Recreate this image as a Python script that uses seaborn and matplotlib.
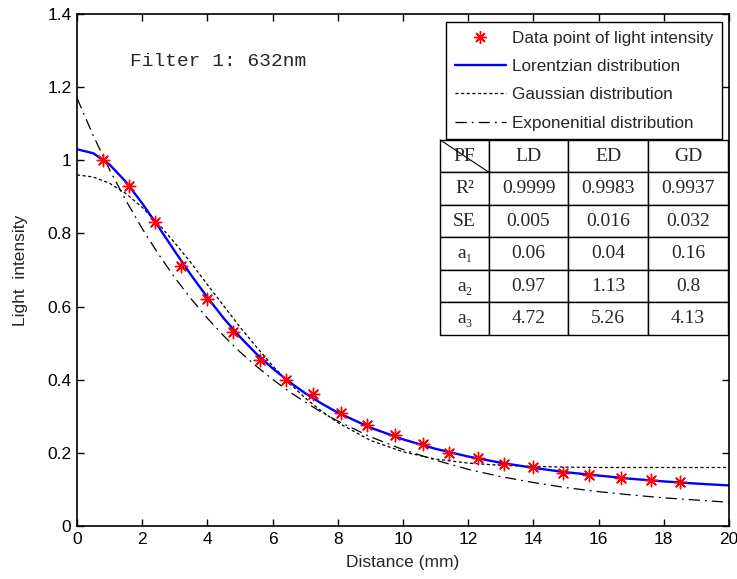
import matplotlib
matplotlib.use("Agg")
import matplotlib.pyplot as plt
import seaborn as sns
from matplotlib.lines import Line2D

# measured data points (mm, intensity)
dist_pts = [0.8, 1.6, 2.4, 3.2, 4.0, 4.8, 5.6, 6.4, 7.25, 8.1, 8.9, 9.75,
            10.6, 11.4, 12.3, 13.1, 14.0, 14.9, 15.7, 16.7, 17.6, 18.5]
light_pts = [1.0, 0.93, 0.83, 0.71, 0.62, 0.53, 0.455, 0.40, 0.36, 0.31, 0.275, 0.25,
             0.225, 0.20, 0.185, 0.17, 0.16, 0.145, 0.14, 0.13, 0.125, 0.12]

# fitted curves
dist_fit = [0, 0.5, 1, 1.5, 2, 2.5, 3, 3.5, 4, 4.5, 5, 5.5, 6, 6.5, 7, 7.5, 8,
            9, 10, 11, 12, 13, 14, 15, 16, 17, 18, 19, 20]
lorentz = [1.03, 1.019, 0.988, 0.941, 0.882, 0.818, 0.751, 0.686, 0.625, 0.568, 0.517,
           0.471, 0.431, 0.395, 0.363, 0.335, 0.310,
           0.269, 0.237, 0.211, 0.190, 0.173, 0.159, 0.147, 0.138, 0.129, 0.122, 0.116, 0.111]
gauss = [0.96, 0.954, 0.937, 0.909, 0.871, 0.826, 0.774, 0.719, 0.660, 0.602, 0.544,
         0.490, 0.438, 0.392, 0.350, 0.314, 0.283,
         0.234, 0.203, 0.183, 0.172, 0.166, 0.163, 0.161, 0.160, 0.160, 0.160, 0.160, 0.160]
expo = [1.17, 1.067, 0.974, 0.890, 0.813, 0.743, 0.679, 0.621, 0.568, 0.520, 0.476,
        0.437, 0.401, 0.368, 0.339, 0.311, 0.287,
        0.244, 0.209, 0.180, 0.155, 0.135, 0.119, 0.105, 0.094, 0.085, 0.077, 0.071, 0.065]

# fit parameter table
col_labels = ["PF", "LD", "ED", "GD"]
row_labels = ["R²", "SE", "a₁", "a₂", "a₃"]
table_vals = [["0.9999", "0.9983", "0.9937"],
              ["0.005", "0.016", "0.032"],
              ["0.06", "0.04", "0.16"],
              ["0.97", "1.13", "0.8"],
              ["4.72", "5.26", "4.13"]]

sns.set_style("ticks")
plt.rcParams["font.family"] = ["Liberation Sans", "DejaVu Sans"]

fig = plt.figure(figsize=(7.37, 5.79), dpi=100)
ax = fig.add_axes([0.1045, 0.0915, 0.8845, 0.8845])

sns.lineplot(x=dist_fit, y=gauss, ax=ax, color="black", lw=0.9)
ax.lines[-1].set_dashes((2.5, 2))
sns.lineplot(x=dist_fit, y=expo, ax=ax, color="black", lw=0.9)
ax.lines[-1].set_dashes((9, 4, 1.5, 4))
sns.lineplot(x=dist_fit, y=lorentz, ax=ax, color="#0000ff", lw=1.7)
sns.scatterplot(x=dist_pts, y=light_pts, ax=ax, marker=(8, 2, 0), color="red",
                s=80, linewidth=1.0, zorder=5)

ax.set_xlim(0, 20)
ax.set_ylim(0, 1.4)
ax.set_xticks(range(0, 21, 2))
ax.set_yticks([0, 0.2, 0.4, 0.6, 0.8, 1.0, 1.2, 1.4])
ax.set_yticklabels(["0", "0.2", "0.4", "0.6", "0.8", "1", "1.2", "1.4"])
ax.tick_params(direction="in", top=True, right=True, length=5, width=1,
               labelsize=12.5, colors="black", pad=4)
for sp in ax.spines.values():
    sp.set_visible(True)
    sp.set_linewidth(1.2)
    sp.set_color("black")
ax.set_xlabel("Distance (mm)", fontsize=12.5, labelpad=6)
ax.set_ylabel("Light  intensity", fontsize=12.5, labelpad=14)

ax.text(1.63, 1.27, "Filter 1: 632nm", fontsize=14, family="Liberation Mono",
        va="center", ha="left")

handles = [
    Line2D([], [], color="red", marker=(8, 2, 0), markersize=9, linestyle="none"),
    Line2D([], [], color="#0000ff", lw=1.7),
    Line2D([], [], color="black", lw=0.9, dashes=(2.5, 2)),
    Line2D([], [], color="black", lw=0.9, dashes=(9, 4, 1.5, 4)),
]
labels = ["Data point of light intensity", "Lorentzian distribution",
          "Gaussian distribution", "Exponenitial distribution"]
leg = ax.legend(handles, labels, loc="upper right", bbox_to_anchor=(0.989, 0.984),
                borderaxespad=0, fontsize=12.3, frameon=True, fancybox=False,
                edgecolor="black", framealpha=1, handlelength=3.0, handletextpad=0.35,
                borderpad=0.5, labelspacing=0.78, markerfirst=True)
leg.get_frame().set_linewidth(1.0)

cells = [[col_labels[0]] + col_labels[1:]] + \
        [[r] + v for r, v in zip(row_labels, table_vals)]
tab = ax.table(cellText=cells, bbox=[0.557, 0.373, 0.4415, 0.381],
               colWidths=[49, 79, 80, 80], cellLoc="center")
tab.auto_set_font_size(False)
for (r, c), cell in tab.get_celld().items():
    cell.set_linewidth(1.0)
    cell.set_edgecolor("black")
    cell.get_text().set_fontsize(14)
    cell.get_text().set_fontfamily(["Liberation Serif", "DejaVu Serif"])
tab.set_zorder(6)

# diagonal in the corner cell
x0, y1 = 0.557, 0.754
ax.plot([x0, x0 + 0.4415 * 49 / 288], [y1, y1 - 0.381 / 6], color="black",
        lw=0.8, transform=ax.transAxes, zorder=7, clip_on=False)

fig.savefig("out.png", dpi=100)
